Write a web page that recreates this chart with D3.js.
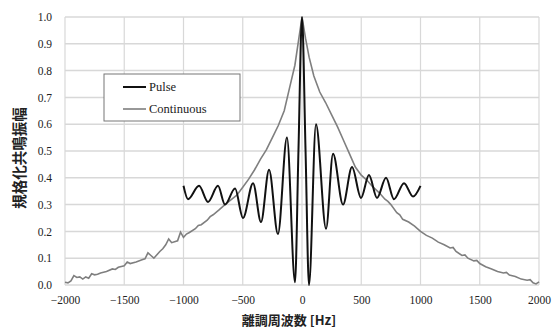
<!DOCTYPE html>
<html>
<head>
<meta charset="utf-8">
<script src="https://cdn.jsdelivr.net/npm/d3@7"></script>
<style>
  body { margin: 0; background: #fff; }
  svg { display: block; }
</style>
</head>
<body>
<svg id="chart"></svg>
<script>
// 離調周波数 [Hz] と規格化共鳴振幅
const pulseFreq = [-1000, -962, -869, -793, -709, -650, -565, -498, -413, -346, -278, -203, -127, -59, -30,
  0, 30, 59, 118, 203, 262, 346, 422, 498, 565, 633, 709, 776, 861, 937, 1000];
const pulseAmp = [0.37, 0.32, 0.37, 0.31, 0.37, 0.30, 0.36, 0.25, 0.38, 0.235, 0.43, 0.19, 0.55, 0.01, 0.5,
  1.0, 0.5, 0.0, 0.60, 0.21, 0.49, 0.30, 0.44, 0.325, 0.41, 0.325, 0.40, 0.32, 0.38, 0.33, 0.37];

const contFreq = [-2000, -1975, -1950, -1925, -1900, -1875, -1850, -1825, -1800, -1775, -1750, -1725, -1700,
  -1650, -1600, -1575, -1550, -1500, -1475, -1450, -1400, -1350, -1325, -1300, -1275, -1250, -1200, -1175,
  -1150, -1125, -1100, -1050, -1025, -1000, -975, -950, -900, -875, -850, -800, -775, -750, -700, -650,
  -600, -550, -500, -450, -400, -350, -300, -250, -200, -150, -100, -60, -30, 0, 30, 60, 100, 150, 200,
  250, 300, 350, 400, 450, 500, 550, 600, 650, 700, 725, 750, 800, 825, 850, 900, 950, 1000, 1050, 1100,
  1150, 1200, 1250, 1275, 1300, 1350, 1375, 1400, 1450, 1475, 1500, 1550, 1600, 1650, 1700, 1725, 1750,
  1800, 1850, 1900, 1925, 1950, 1975, 2000];
const contAmp = [0.010, 0.008, 0.015, 0.035, 0.028, 0.030, 0.022, 0.030, 0.025, 0.042, 0.038, 0.040, 0.045,
  0.050, 0.060, 0.058, 0.066, 0.072, 0.086, 0.080, 0.086, 0.094, 0.098, 0.120, 0.110, 0.100, 0.125, 0.135,
  0.150, 0.172, 0.158, 0.165, 0.197, 0.178, 0.190, 0.196, 0.210, 0.222, 0.225, 0.242, 0.255, 0.262, 0.280,
  0.300, 0.318, 0.335, 0.365, 0.395, 0.430, 0.470, 0.505, 0.550, 0.595, 0.650, 0.745, 0.820, 0.910, 1.000,
  0.920, 0.850, 0.780, 0.720, 0.680, 0.635, 0.590, 0.540, 0.490, 0.440, 0.410, 0.390, 0.365, 0.345, 0.320,
  0.312, 0.300, 0.270, 0.262, 0.245, 0.235, 0.220, 0.200, 0.185, 0.175, 0.160, 0.150, 0.138, 0.140, 0.125,
  0.110, 0.112, 0.100, 0.090, 0.092, 0.080, 0.068, 0.060, 0.050, 0.045, 0.047, 0.037, 0.032, 0.022, 0.018,
  0.020, 0.008, 0.004, 0.012];

const xTicks = [-2000, -1500, -1000, -500, 0, 500, 1000, 1500, 2000];
const yTicks = [0, 0.1, 0.2, 0.3, 0.4, 0.5, 0.6, 0.7, 0.8, 0.9, 1.0];
const seriesNames = ["Pulse", "Continuous"];

const width = 553, height = 329;
const margin = { top: 17, right: 14, bottom: 44, left: 65 };

const svg = d3.select("#chart").attr("width", width).attr("height", height);
const g = svg.append("g").attr("transform", `translate(${margin.left}, ${margin.top})`);
const iw = width - margin.left - margin.right;
const ih = height - margin.top - margin.bottom;

const x = d3.scaleLinear().domain([-2000, 2000]).range([0, iw]);
const y = d3.scaleLinear().domain([0, 1]).range([ih, 0]);

const serif = "'Liberation Serif', 'Times New Roman', serif";

// グリッド
g.append("g")
  .selectAll("line.h").data(yTicks).enter().append("line")
  .attr("x1", 0).attr("x2", iw)
  .attr("y1", d => y(d)).attr("y2", d => y(d))
  .attr("stroke", "#d8d8d8").attr("stroke-width", 1.5);
g.append("g")
  .selectAll("line.v").data(xTicks).enter().append("line")
  .attr("x1", d => x(d)).attr("x2", d => x(d))
  .attr("y1", 0).attr("y2", ih)
  .attr("stroke", "#d8d8d8").attr("stroke-width", 1.2);

// 軸
const xAxis = g.append("g")
  .attr("transform", `translate(0, ${ih})`)
  .call(d3.axisBottom(x).tickValues(xTicks).tickSize(0).tickPadding(11).tickFormat(d3.format("d")));
xAxis.select(".domain").remove();
xAxis.selectAll("text").style("font-family", serif).style("font-size", "11.5px").attr("fill", "#222");

const yAxis = g.append("g")
  .call(d3.axisLeft(y).tickValues(yTicks).tickSize(0).tickPadding(13).tickFormat(d3.format(".1f")));
yAxis.select(".domain").remove();
yAxis.selectAll("text").style("font-family", serif).style("font-size", "11.5px").attr("fill", "#222");

// 線
const contData = contFreq.map((f, i) => [f, contAmp[i]]);
const pulseData = pulseFreq.map((f, i) => [f, pulseAmp[i]]);

g.append("path")
  .datum(contData)
  .attr("fill", "none")
  .attr("stroke", "#7f7f7f")
  .attr("stroke-width", 1.6)
  .attr("d", d3.line().x(d => x(d[0])).y(d => y(d[1])));

g.append("path")
  .datum(pulseData)
  .attr("fill", "none")
  .attr("stroke", "#111")
  .attr("stroke-width", 2)
  .attr("d", d3.line().x(d => x(d[0])).y(d => y(d[1])).curve(d3.curveMonotoneX));

// 凡例
const legend = svg.append("g").attr("transform", "translate(104, 74)");
legend.append("rect")
  .attr("width", 136).attr("height", 47)
  .attr("fill", "#fff").attr("stroke", "#777").attr("stroke-width", 1);
const colors = ["#111", "#7f7f7f"];
seriesNames.forEach((name, i) => {
  const ly = 13 + i * 22;
  legend.append("line")
    .attr("x1", 19).attr("x2", 42).attr("y1", ly).attr("y2", ly)
    .attr("stroke", colors[i]).attr("stroke-width", i === 0 ? 2 : 1.6);
  legend.append("text")
    .attr("x", 45).attr("y", ly + 4)
    .style("font-family", serif).style("font-size", "12.5px")
    .attr("fill", "#222")
    .text(name);
});

// 軸タイトル
svg.append("text")
  .attr("x", 289).attr("y", 325)
  .attr("text-anchor", "middle")
  .style("font-family", "'Noto Sans CJK JP', sans-serif")
  .style("font-size", "13px").style("font-weight", "bold")
  .attr("fill", "#222")
  .text("離調周波数 [Hz]");

svg.append("text")
  .attr("transform", "translate(25, 158) rotate(-90)")
  .attr("text-anchor", "middle")
  .style("font-family", "'Noto Sans CJK JP', sans-serif")
  .style("font-size", "14.5px").style("font-weight", "bold")
  .attr("fill", "#222")
  .text("規格化共鳴振幅");
</script>
</body>
</html>
